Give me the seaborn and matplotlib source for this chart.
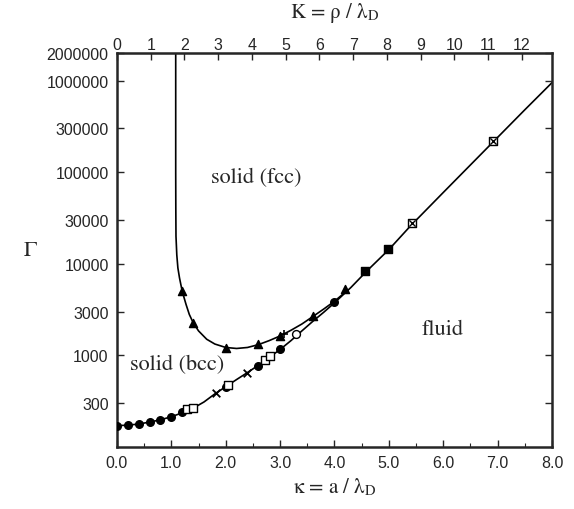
import matplotlib
matplotlib.use("Agg")
import matplotlib.pyplot as plt
import numpy as np
import pandas as pd
import seaborn as sns

# kappa -> K conversion: rho = a * (4 pi / 3)^(1/3)
K_FACTOR = (4 * np.pi / 3) ** (1 / 3)

# melting line bcc/fcc - fluid (lower curve)
melt_kappa = [0.0, 0.2, 0.4, 0.6, 0.8, 1.0, 1.2, 1.4, 1.6, 1.8, 2.0, 2.2, 2.4, 2.6,
              2.8, 3.0, 3.2, 3.4, 3.6, 3.8, 4.0, 4.3, 4.6, 5.0, 5.4, 6.0, 6.5, 7.0,
              7.5, 8.0]
melt_gamma = [171, 173, 178, 187, 198, 214, 236, 265, 310, 380, 455, 545, 650, 780,
              950, 1160, 1450, 1850, 2350, 2950, 3750, 5500, 8400, 14300, 26000,
              60000, 120000, 240000, 480000, 950000]

# bcc - fcc boundary (upper curve)
bf_kappa = [1.08, 1.08, 1.082, 1.085, 1.1, 1.12, 1.15, 1.2, 1.27, 1.33, 1.4, 1.5,
            1.65, 1.8, 2.0, 2.2, 2.4, 2.6, 2.8, 3.0, 3.2, 3.4, 3.6, 3.8, 4.0, 4.25]
bf_gamma = [2000000, 100000, 40000, 20000, 12500, 9000, 7000, 5000, 3600, 2800,
            2280, 1850, 1500, 1330, 1220, 1190, 1220, 1310, 1450, 1630, 1880, 2200,
            2650, 3200, 3900, 5200]

# simulation points
circ_kappa = [0.0, 0.2, 0.4, 0.6, 0.8, 1.0, 1.2, 2.0, 2.6, 3.0, 4.0]
circ_gamma = [171, 173, 177, 187, 198, 214, 239, 455, 767, 1164, 3810]

opensq_kappa = [1.28, 1.4, 2.05, 2.72, 2.82]
opensq_gamma = [258, 268, 480, 900, 990]

cross_kappa = [1.82, 2.4]
cross_gamma = [393, 650]

opencirc_kappa = [3.3]
opencirc_gamma = [1700]

fillsq_kappa = [4.57, 4.98]
fillsq_gamma = [8280, 14500]

boxx_kappa = [5.42, 6.91]
boxx_gamma = [27600, 220000]

tri_kappa = [1.2, 1.4, 2.0, 2.6, 3.0, 3.6, 4.2]
tri_gamma = [5020, 2277, 1216, 1320, 1626, 2685, 5330]

plus_kappa = [3.08]
plus_gamma = [1700]

y_ticks = [300, 1000, 3000, 10000, 30000, 100000, 300000, 1000000, 2000000]
x_ticks = [0, 1, 2, 3, 4, 5, 6, 7, 8]
k_ticks = list(range(13))

SERIF = "STIXGeneral"


def main():
    sns.set_style("ticks")
    plt.rcParams["font.family"] = ["Liberation Sans", "DejaVu Sans"]
    plt.rcParams["mathtext.fontset"] = "stix"

    fig = plt.figure(figsize=(5.74, 5.10), dpi=100)
    ax = fig.add_axes([0.2038, 0.1216, 0.7579, 0.7725])

    melt_df = pd.DataFrame({"kappa": melt_kappa, "gamma": melt_gamma})
    bf_df = pd.DataFrame({"kappa": bf_kappa, "gamma": bf_gamma})
    sns.lineplot(data=melt_df, x="kappa", y="gamma", color="black", lw=1.2,
                 sort=False, estimator=None, ax=ax)
    sns.lineplot(data=bf_df, x="kappa", y="gamma", color="black", lw=1.2,
                 sort=False, estimator=None, ax=ax)

    def pts(kx, gy, marker, s, fc="black", lw=1.0):
        sns.scatterplot(x=kx, y=gy, marker=marker, s=s, color=fc,
                        edgecolor="black", linewidth=lw, ax=ax, zorder=3)

    pts(circ_kappa, circ_gamma, "o", 30)
    pts(opensq_kappa, opensq_gamma, "s", 28, fc="white")
    pts(cross_kappa, cross_gamma, "x", 30, lw=1.3)
    pts(opencirc_kappa, opencirc_gamma, "o", 32, fc="white")
    pts(fillsq_kappa, fillsq_gamma, "s", 28)
    pts(boxx_kappa, boxx_gamma, "s", 36, fc="white")
    pts(boxx_kappa, boxx_gamma, "x", 20, lw=1.0)
    pts(tri_kappa, tri_gamma, "^", 34)
    pts(plus_kappa, plus_gamma, "+", 40, lw=1.2)

    ax.set_yscale("log")
    ax.set_xlim(0, 8)
    ax.set_ylim(100, 2000000)
    ax.set_yticks(y_ticks)
    ax.set_yticklabels([str(v) for v in y_ticks])
    ax.yaxis.set_minor_locator(matplotlib.ticker.NullLocator())
    ax.set_xticks(x_ticks)
    ax.set_xticklabels([f"{v:.1f}" for v in x_ticks])
    ax.set_xticks(np.arange(0.5, 8, 1.0), minor=True)

    ax.tick_params(axis="both", which="major", direction="in", length=5, width=1,
                   labelsize=11.5, top=False, right=True, pad=6)
    ax.tick_params(axis="x", which="minor", direction="in", length=3, width=0.8,
                   top=False)
    for side in ax.spines.values():
        side.set_linewidth(1.8)

    ax.set_xlabel(r"κ = a / λ$_\mathrm{D}$", fontsize=15, fontfamily=SERIF,
                  labelpad=4)
    ax.set_ylabel("Γ", fontsize=16, rotation=0, fontfamily=SERIF,
                  ha="center", va="center")
    ax.yaxis.set_label_coords(-0.2, 0.5)

    top = ax.secondary_xaxis("top", functions=(lambda k: k * K_FACTOR,
                                               lambda K: K / K_FACTOR))
    top.set_xticks(k_ticks)
    top.set_xticklabels([str(v) for v in k_ticks])
    top.tick_params(direction="in", length=5, width=1, labelsize=11.5, pad=1)
    top.set_xlabel(r"K = ρ / λ$_\mathrm{D}$", fontsize=15, fontfamily=SERIF,
                   labelpad=14)

    ax.text(2.57, 87000, "solid (fcc)", fontsize=16, fontfamily=SERIF,
            ha="center", va="center")
    ax.text(0.24, 800, "solid (bcc)", fontsize=16, fontfamily=SERIF,
            ha="left", va="center")
    ax.text(5.6, 1920, "fluid", fontsize=16, fontfamily=SERIF,
            ha="left", va="center")

    fig.savefig("out.png", dpi=100)
    plt.close(fig)


if __name__ == "__main__":
    main()
